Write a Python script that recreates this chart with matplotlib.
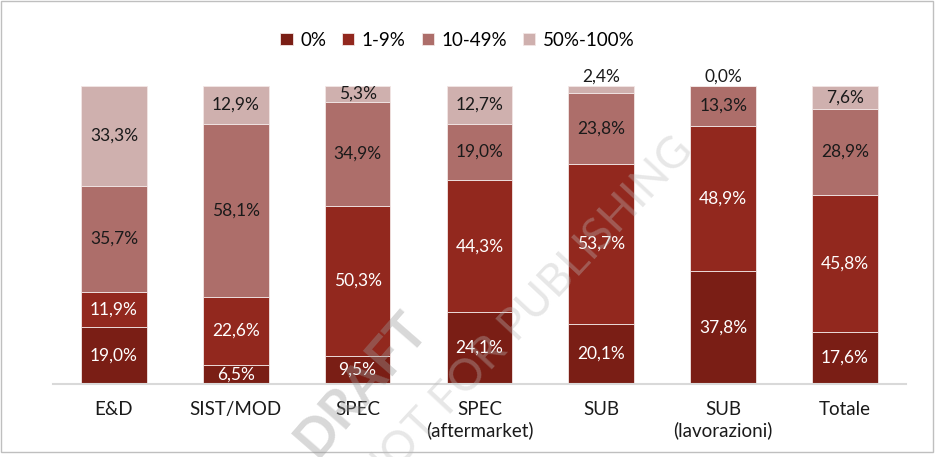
import matplotlib.pyplot as plt
import numpy as np
from matplotlib.patches import Rectangle

plt.rcParams['font.family'] = ['Lato', 'DejaVu Sans']

categories = ['E&D', 'SIST/MOD', 'SPEC', 'SPEC\n(aftermarket)', 'SUB', 'SUB\n(lavorazioni)', 'Totale']
series_names = ['0%', '1-9%', '10-49%', '50%-100%']
v0 = [19.0, 6.5, 9.5, 24.1, 20.1, 37.8, 17.6]
v1 = [11.9, 22.6, 50.3, 44.3, 53.7, 48.9, 45.8]
v2 = [35.7, 58.1, 34.9, 19.0, 23.8, 13.3, 28.9]
v3 = [33.3, 12.9, 5.3, 12.7, 2.4, 0.0, 7.6]

colors = ['#7a1e15', '#92281e', '#ad6e6a', '#cfb0ae']
text_colors = ['white', 'white', '#1a1a1a', '#1a1a1a']

fig = plt.figure(figsize=(9.39, 4.57), dpi=100)
ax = fig.add_axes([0.0564, 0.1597, 0.9084, 0.6521])

x = np.arange(len(categories))
bottom = np.zeros(len(categories))
for vals, name, col, tcol in zip([v0, v1, v2, v3], series_names, colors, text_colors):
    vals = np.array(vals)
    ax.bar(x, vals, bottom=bottom, width=0.54, color=col, edgecolor='#f2e6e5',
           linewidth=0.6, label=name, zorder=2)
    for xi, b, v in zip(x, bottom, vals):
        lab = f'{v:.1f}%'.replace('.', ',')
        if v < 4:
            ax.text(xi, b + v + 0.5, lab, ha='center', va='bottom', fontsize=12.5,
                    color='#1a1a1a', zorder=4)
        else:
            ax.text(xi, b + v / 2, lab, ha='center', va='center', fontsize=12.5,
                    color=tcol, zorder=4)
    bottom += vals

ax.set_xlim(-0.5, len(categories) - 0.5)
ax.set_ylim(0, 100)
ax.set_yticks([])
ax.set_xticks(x)
ax.set_xticklabels(categories, fontsize=13.5, color='#1a1a1a', linespacing=1.25)
ax.tick_params(axis='x', length=0, pad=12)
for s in ['top', 'right', 'left']:
    ax.spines[s].set_visible(False)
ax.spines['bottom'].set_color('#d9d9d9')
ax.spines['bottom'].set_linewidth(1.5)

fig.legend(loc='center', bbox_to_anchor=(0.487, 0.912), ncol=4, frameon=False,
           fontsize=13.5, handlelength=0.65, handleheight=0.65, handletextpad=0.4,
           columnspacing=0.85)

# watermark (cut off at the bottom edge, as in the source)
fig.text(0.385, 0.16, 'DRAFT', rotation=49, fontsize=38, fontweight='bold',
         color='#999999', alpha=0.38, ha='center', va='center', zorder=10)
fig.text(0.56, 0.31, 'NOT FOR PUBLISHING', rotation=47, fontsize=32,
         color='#bbbbbb', alpha=0.35, ha='center', va='center', zorder=10)

fig.patches.append(Rectangle((0.001, 0.011), 0.993, 0.987, transform=fig.transFigure,
                             fill=False, edgecolor='#bfbfbf', linewidth=1))

fig.savefig('out.png', dpi=100)
